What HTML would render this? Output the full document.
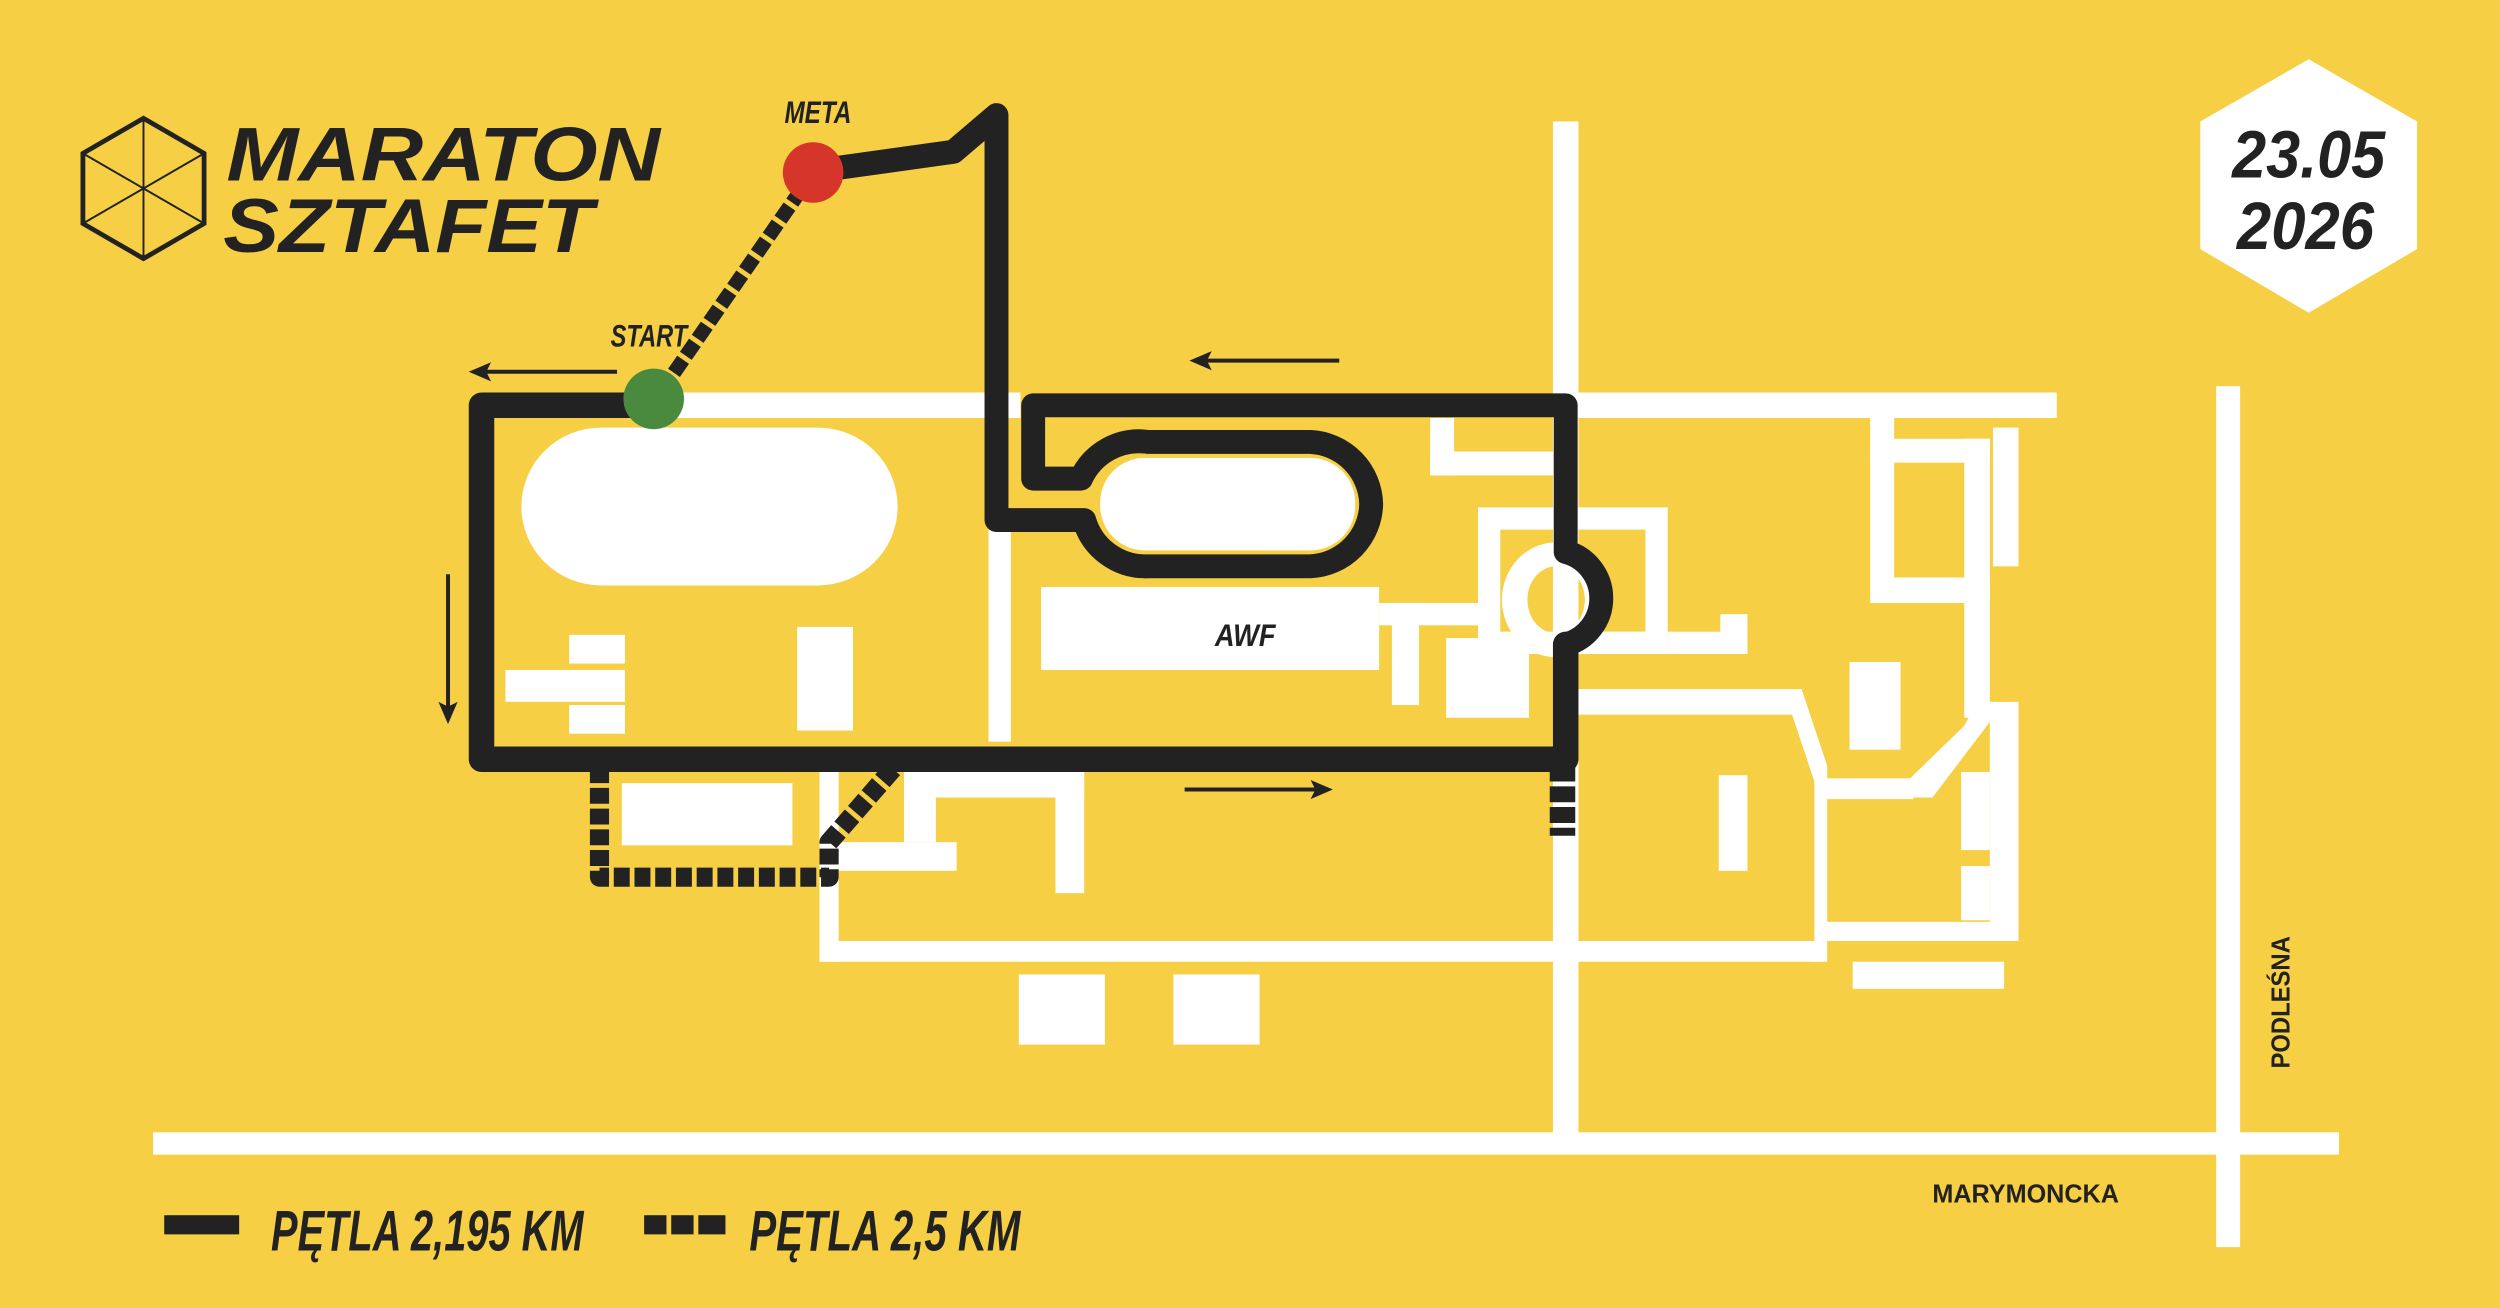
<!DOCTYPE html>
<html><head><meta charset="utf-8"><style>
html,body{margin:0;padding:0;background:#f6cf45;}
svg{display:block}
.c{font-family:"Liberation Sans Narrow","Liberation Sans",sans-serif;font-weight:bold;font-style:italic;fill:#222}
</style></head><body>
<svg width="2500" height="1308" viewBox="0 0 1568 820" xmlns="http://www.w3.org/2000/svg">
<rect width="1568" height="820" fill="#f6cf45"/>
<g fill="#fff">
<!-- roads -->
<rect x="310" y="246" width="330" height="16"/>
<rect x="974" y="76" width="16" height="640"/>
<rect x="990" y="246" width="300" height="16"/>
<rect x="1390" y="242" width="15" height="540"/>
<rect x="96" y="710" width="1371" height="14"/>
<rect x="620" y="320" width="14" height="145"/>
<rect x="514" y="480" width="12" height="123"/>
<rect x="514" y="590" width="630" height="13"/>
<!-- left block -->
<rect x="327" y="268" width="236" height="99" rx="50"/>
<rect x="357" y="398" width="35" height="18"/>
<rect x="317" y="420" width="75" height="20"/>
<rect x="357" y="442" width="35" height="18"/>
<rect x="500" y="393" width="35" height="65"/>
<rect x="390" y="491" width="107" height="39"/>
<!-- bottom buildings -->
<rect x="567" y="484" width="113" height="16"/>
<rect x="662" y="484" width="18" height="76"/>
<rect x="567" y="484" width="20" height="44"/>
<rect x="526" y="528" width="74" height="18"/>
<rect x="639" y="611" width="54" height="44"/>
<rect x="736" y="611" width="54" height="44"/>
<!-- AWF area -->
<rect x="653" y="368" width="212" height="52"/>
<rect x="865" y="378" width="65" height="14"/>
<rect x="873" y="378" width="17" height="64"/>
<rect x="907" y="400" width="52" height="50"/>
<rect x="897" y="262" width="15" height="36"/>
<rect x="897" y="283" width="77" height="15"/>
<path d="M927 318 H1046 V410 H927 Z M941 332 V396 H1032 V332 Z" fill-rule="evenodd"/>
<path d="M976 376 m-34 0 a34 36 0 1 0 68 0 a34 36 0 1 0 -68 0 Z M976 376 m-18 0 a18 21 0 1 0 36 0 a18 21 0 1 0 -36 0 Z" fill-rule="evenodd"/>
<rect x="1046" y="396" width="50" height="14"/>
<rect x="1079" y="385" width="17" height="25"/>
<!-- right area -->
<path d="M990 432 H1130 L1146 480 V603 H1138 V490 L1124 448 H990 Z"/>
<rect x="1140" y="488" width="60" height="13"/>
<path d="M1198 488 L1232 455 L1240 440 H1250 V450 L1212 500 H1198 Z"/>
<rect x="1173" y="262" width="15" height="100"/>
<rect x="1173" y="275" width="75" height="15"/>
<rect x="1232" y="275" width="16" height="175"/>
<rect x="1173" y="362" width="75" height="16"/>
<rect x="1250" y="268" width="16" height="87"/>
<rect x="1160" y="415" width="32" height="55"/>
<rect x="1078" y="486" width="18" height="60"/>
<rect x="1248" y="440" width="18" height="150"/>
<rect x="1146" y="578" width="120" height="12"/>
<rect x="1230" y="484" width="18" height="49"/>
<rect x="1230" y="543" width="18" height="34"/>
<rect x="1162" y="603" width="95" height="17"/>
</g>
<!-- route -->
<g fill="none" stroke="#222" stroke-linejoin="round" stroke-linecap="round">
<path d="M410 254 H302 V476 H982 V404" stroke-width="16"/>
<path d="M982 404 A30 30 0 0 0 982 346 V254 H648 V300 H678 A40 40 0 0 1 720 277 H822 A40 40 0 0 1 860 316 A40 40 0 0 1 822 355 H720 A40 40 0 0 1 680 326 H625 V72 L598 95 L512 107" stroke-width="15"/>
<!-- dashed -->
<path d="M510 108 L410 252" stroke-width="9" stroke-dasharray="10 3" stroke-linecap="butt"/>
<path d="M560 482 L520 528 V550 H376 V484" stroke-width="12" stroke-dasharray="10 3" stroke-linecap="butt"/>
<path d="M980 480 V524" stroke-width="16" stroke-dasharray="10 3" stroke-linecap="butt"/>
</g>
<rect x="690" y="287" width="160" height="58" rx="28" fill="#fff"/>
<!-- arrows -->
<g stroke="#222" stroke-width="2.5" fill="#222">
<line x1="300" y1="233" x2="387" y2="233"/><path d="M294 233 L308 227 L305 233 L308 239 Z" stroke="none"/>
<line x1="281" y1="360" x2="281" y2="446"/><path d="M281 454 L275 440 L281 443 L287 440 Z" stroke="none"/>
<line x1="752" y1="226" x2="840" y2="226"/><path d="M746 226 L760 220 L757 226 L760 232 Z" stroke="none"/>
<line x1="743" y1="495" x2="828" y2="495"/><path d="M836 495 L822 489 L825 495 L822 501 Z" stroke="none"/>
</g>
<circle cx="410" cy="250" r="19" fill="#4a8a3f"/>
<circle cx="510" cy="108" r="19" fill="#d63629"/>
<!-- logo -->
<g stroke="#222" stroke-width="3" fill="none">
<path d="M90 74 L128 96 L128 140 L90 162 L52 140 L52 96 Z"/>
<path d="M90 74 V162 M52 96 L128 140 M128 96 L52 140" stroke-width="1.2"/>
</g>
<text x="142" y="113" font-family="Liberation Sans,sans-serif" font-weight="900" font-style="italic" font-size="48" fill="#222" textLength="272" lengthAdjust="spacingAndGlyphs">MARATON</text>
<text x="140" y="158" font-family="Liberation Sans,sans-serif" font-weight="900" font-style="italic" font-size="48" fill="#222" textLength="232" lengthAdjust="spacingAndGlyphs">SZTAFET</text>
<!-- date -->
<path d="M1448 37 L1516 76 L1516 156 L1448 196 L1380 156 L1380 76 Z" fill="#fff"/>
<text x="1448" y="111" text-anchor="middle" class="c" font-size="42" textLength="96" lengthAdjust="spacingAndGlyphs">23.05</text>
<text x="1446" y="156" text-anchor="middle" class="c" font-size="42" textLength="86" lengthAdjust="spacingAndGlyphs">2026</text>
<!-- labels -->
<text x="492" y="77" class="c" font-size="20" textLength="42" lengthAdjust="spacingAndGlyphs">META</text>
<text x="383" y="217" class="c" font-size="20" textLength="48" lengthAdjust="spacingAndGlyphs">START</text>
<text x="762" y="405" class="c" font-size="20" textLength="38" lengthAdjust="spacingAndGlyphs">AWF</text>
<text x="1212" y="754" font-family="Liberation Sans,sans-serif" font-weight="bold" font-size="16" fill="#222" textLength="117" lengthAdjust="spacingAndGlyphs">MARYMONCKA</text>
<text transform="translate(1436,670) rotate(-90)" font-family="Liberation Sans,sans-serif" font-weight="bold" font-size="16" fill="#222" textLength="83" lengthAdjust="spacingAndGlyphs">PODLEŚNA</text>
<!-- legend -->
<rect x="103" y="762" width="47" height="12" fill="#222"/>
<text x="170" y="784" class="c" font-size="36" textLength="196" lengthAdjust="spacingAndGlyphs">PĘTLA 2,195 KM</text>
<g fill="#222"><rect x="404" y="762" width="14" height="12"/><rect x="421" y="762" width="14" height="12"/><rect x="438" y="762" width="17" height="12"/></g>
<text x="470" y="784" class="c" font-size="36" textLength="170" lengthAdjust="spacingAndGlyphs">PĘTLA 2,5 KM</text>
</svg>
</body></html>
